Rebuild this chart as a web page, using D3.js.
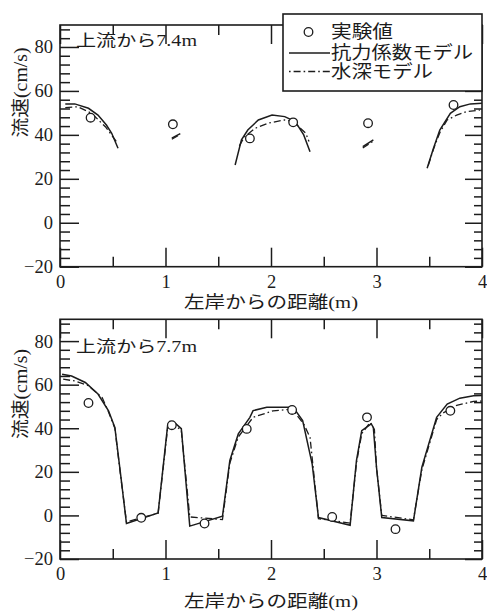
<!DOCTYPE html>
<html>
<head>
<meta charset="utf-8">
<script src="https://cdn.jsdelivr.net/npm/d3@7"></script>
<style>
  html, body { margin: 0; padding: 0; background: #fff; }
  svg { display: block; }
  svg text { font-family: "Liberation Serif", "DejaVu Serif", "Noto Sans CJK JP", serif; fill: #1c1c1c; }
</style>
</head>
<body>
<svg id="chart" width="487" height="611"></svg>
<script>
// Cross-section velocity profiles: measurements vs. two numerical models

// ---- axis ticks ----
const xMajorTicks = [0, 1, 2, 3, 4];
const xMinorTicks = [0.5, 1.5, 2.5, 3.5];
const yMajorTicks = [-20, 0, 20, 40, 60, 80];
const yMinorTicks = d3.range(-20, 90, 4).filter(v => v % 20 !== 0);

// ---- text ----
const sectionTitles = ["上流から7.4m", "上流から7.7m"];
const legendLabels = ["実験値", "抗力係数モデル", "水深モデル"];
const yAxisTitle = "流速(cm/s)";
const xAxisTitle = "左岸からの距離(m)";

// ---- section 7.4 m (flow only between vegetation rows) ----
const measured74 = [[0.29, 47.8], [1.07, 44.8], [1.80, 38.4], [2.21, 45.7], [2.92, 45.3], [3.73, 53.6]];
const dragModel74 = [
  [[0.05, 54.0], [0.14, 54.1], [0.27, 52.1], [0.36, 49.0], [0.44, 44.5], [0.49, 40.7], [0.55, 33.9]],
  [[1.06, 38.5], [1.14, 40.6]],
  [[1.66, 26.3], [1.72, 37.7], [1.78, 42.2], [1.88, 46.8], [2.01, 49.0], [2.13, 48.3], [2.23, 46.0], [2.31, 40.0], [2.37, 32.3]],
  [[2.87, 34.6], [2.97, 37.7]],
  [[3.48, 24.8], [3.54, 33.9], [3.60, 42.2], [3.70, 49.8], [3.79, 52.8], [3.89, 54.1], [4.00, 54.4]]
];
const depthModel74 = [
  [[0.05, 52.4], [0.17, 52.8], [0.30, 49.8], [0.43, 43.7], [0.50, 39.2], [0.54, 36.5]],
  [[1.06, 38.0], [1.14, 40.2]],
  [[1.70, 35.0], [1.75, 39.2], [1.85, 43.0], [1.97, 45.3], [2.13, 46.8], [2.21, 46.0], [2.33, 40.7], [2.36, 37.0]],
  [[2.87, 34.0], [2.97, 37.2]],
  [[3.49, 26.0], [3.54, 33.5], [3.60, 41.0], [3.67, 46.8], [3.76, 49.0], [3.85, 50.5], [3.98, 51.3]]
];

// ---- section 7.7 m (continuous across the channel) ----
const measured77 = [[0.27, 51.6], [0.77, -1.1], [1.06, 41.4], [1.37, -3.7], [1.77, 39.7], [2.20, 48.4],
                    [2.58, -0.7], [2.91, 45.0], [3.18, -6.3], [3.70, 48.0]];
const dragModel77 = [[
  [0.02, 64.8], [0.11, 64.0], [0.24, 61.0], [0.36, 55.7], [0.46, 48.0], [0.52, 40.4], [0.57, 20.6], [0.63, -3.7],
  [0.93, 1.1], [1.02, 41.2], [1.04, 43.0], [1.10, 42.0], [1.15, 39.8], [1.23, -4.9],
  [1.54, -0.4], [1.61, 25.2], [1.69, 37.4], [1.80, 45.0], [1.83, 48.1], [1.96, 49.6], [2.21, 49.6], [2.30, 43.5], [2.39, 23.7], [2.45, -1.0],
  [2.75, -4.5], [2.81, 25.2], [2.86, 38.9], [2.95, 42.0], [2.97, 40.4], [3.00, 22.1], [3.05, -1.0],
  [3.35, -2.5], [3.43, 22.1], [3.57, 45.0], [3.67, 51.1], [3.79, 53.8], [3.92, 54.9], [4.00, 55.0]
]];
const depthModel77 = [[
  [0.03, 62.5], [0.14, 61.7], [0.27, 59.5], [0.40, 54.1], [0.46, 47.5], [0.52, 40.0], [0.57, 20.0], [0.63, -3.0],
  [0.93, 1.0], [1.02, 40.0], [1.05, 41.0], [1.10, 41.0], [1.15, 39.0], [1.23, -0.7],
  [1.54, -1.9], [1.61, 24.0], [1.69, 36.0], [1.83, 45.0], [2.02, 48.0], [2.20, 48.8], [2.31, 42.0], [2.37, 35.8], [2.45, -1.5],
  [2.75, -3.5], [2.81, 24.0], [2.86, 37.5], [2.94, 42.7], [2.98, 39.5], [3.00, 22.0], [3.05, 0.0],
  [3.35, -2.0], [3.43, 21.0], [3.57, 44.0], [3.63, 47.0], [3.76, 50.5], [3.92, 52.3], [4.00, 52.5]
]];

const panels = [
  { title: sectionTitles[0], measured: measured74, drag: dragModel74, depth: depthModel74,
    top: 25, bottom: 266.7, titleY: 40, xTitleY: 302, yTitleY: 92.5, legend: true },
  { title: sectionTitles[1], measured: measured77, drag: dragModel77, depth: depthModel77,
    top: 319.3, bottom: 559, titleY: 346, xTitleY: 601, yTitleY: 394, legend: false }
];

const ink = "#1c1c1c";
const dashDot = "7,3,1.6,3";
const left = 60, right = 482;

const svg = d3.select("#chart");
svg.append("rect").attr("width", 487).attr("height", 611).attr("fill", "#fff");

const x = d3.scaleLinear().domain([0, 4]).range([left, right]);

function styleAxis(g) {
  g.attr("font-family", null).attr("font-size", null);
  g.select(".domain").remove();
  g.selectAll("line").attr("stroke", ink).attr("stroke-width", 1.5);
  g.selectAll("text").attr("fill", ink).style("font-size", "18.5px");
}

panels.forEach(p => {
  const y = d3.scaleLinear().domain([-20, 90]).range([p.bottom, p.top]);
  const g = svg.append("g");

  // left axis: major + minor, ticks pointing inward
  g.append("g").attr("transform", `translate(${left},0)`)
    .call(d3.axisLeft(y).tickValues(yMajorTicks).tickSize(-19).tickSizeOuter(0).tickPadding(7))
    .call(styleAxis);
  g.append("g").attr("transform", `translate(${left},0)`)
    .call(d3.axisLeft(y).tickValues(yMinorTicks).tickSize(-10).tickSizeOuter(0).tickFormat(""))
    .call(styleAxis);
  // right axis
  g.append("g").attr("transform", `translate(${right},0)`)
    .call(d3.axisRight(y).tickValues(yMajorTicks).tickSize(-17).tickSizeOuter(0).tickFormat(""))
    .call(styleAxis);
  g.append("g").attr("transform", `translate(${right},0)`)
    .call(d3.axisRight(y).tickValues(yMinorTicks).tickSize(-8).tickSizeOuter(0).tickFormat(""))
    .call(styleAxis);
  // bottom axis
  g.append("g").attr("transform", `translate(0,${p.bottom})`)
    .call(d3.axisBottom(x).tickValues(xMajorTicks).tickSize(-19).tickSizeOuter(0).tickPadding(8).tickFormat(d3.format("d")))
    .call(styleAxis);
  g.append("g").attr("transform", `translate(0,${p.bottom})`)
    .call(d3.axisBottom(x).tickValues(xMinorTicks).tickSize(-10).tickSizeOuter(0).tickFormat(""))
    .call(styleAxis);
  // top axis
  g.append("g").attr("transform", `translate(0,${p.top})`)
    .call(d3.axisTop(x).tickValues(xMajorTicks).tickSize(-19).tickSizeOuter(0).tickFormat(""))
    .call(styleAxis);
  g.append("g").attr("transform", `translate(0,${p.top})`)
    .call(d3.axisTop(x).tickValues(xMinorTicks).tickSize(-10).tickSizeOuter(0).tickFormat(""))
    .call(styleAxis);

  // frame
  g.append("rect")
    .attr("x", left).attr("y", p.top)
    .attr("width", right - left).attr("height", p.bottom - p.top)
    .attr("fill", "none").attr("stroke", ink).attr("stroke-width", 1.6);

  const line = d3.line().x(d => x(d[0])).y(d => y(d[1])).curve(d3.curveLinear);

  // drag-coefficient model (solid)
  g.append("g").selectAll("path").data(p.drag).join("path")
    .attr("d", line).attr("fill", "none").attr("stroke", ink).attr("stroke-width", 1.5);
  // water-depth model (dash-dot)
  g.append("g").selectAll("path").data(p.depth).join("path")
    .attr("d", line).attr("fill", "none").attr("stroke", ink).attr("stroke-width", 1.3)
    .attr("stroke-dasharray", dashDot);
  // measurements
  g.append("g").selectAll("circle").data(p.measured).join("circle")
    .attr("cx", d => x(d[0])).attr("cy", d => y(d[1])).attr("r", 4.3)
    .attr("fill", "#fff").attr("stroke", ink).attr("stroke-width", 1.3);

  // section title
  g.append("text").text(p.title)
    .attr("x", 76).attr("y", p.titleY).attr("dominant-baseline", "central")
    .style("font-size", "16px")
    .attr("textLength", 121).attr("lengthAdjust", "spacingAndGlyphs");

  // axis titles
  g.append("text").text(yAxisTitle)
    .attr("transform", `translate(21,${p.yTitleY}) rotate(-90)`)
    .attr("text-anchor", "middle").attr("dominant-baseline", "central")
    .style("font-size", "18px")
    .attr("textLength", 90).attr("lengthAdjust", "spacingAndGlyphs");
  g.append("text").text(xAxisTitle)
    .attr("x", 271).attr("y", p.xTitleY)
    .attr("text-anchor", "middle").attr("dominant-baseline", "central")
    .style("font-size", "17px")
    .attr("textLength", 174).attr("lengthAdjust", "spacingAndGlyphs");

  if (p.legend) {
    const lg = svg.append("g");
    lg.append("rect").attr("x", 283).attr("y", 14).attr("width", 199).attr("height", 77)
      .attr("fill", "#fff").attr("stroke", ink).attr("stroke-width", 1.6);
    const rows = [32, 53, 71.5];
    lg.append("circle").attr("cx", 308.5).attr("cy", rows[0]).attr("r", 4.3)
      .attr("fill", "#fff").attr("stroke", ink).attr("stroke-width", 1.3);
    lg.append("line").attr("x1", 289).attr("x2", 330).attr("y1", rows[1]).attr("y2", rows[1])
      .attr("stroke", ink).attr("stroke-width", 1.5);
    lg.append("line").attr("x1", 289).attr("x2", 330).attr("y1", rows[2]).attr("y2", rows[2])
      .attr("stroke", ink).attr("stroke-width", 1.3).attr("stroke-dasharray", "1.6,3,7,3");
    const widths = [62, 142, 102];
    lg.selectAll("text.lab").data(legendLabels).join("text")
      .attr("class", "lab").text(d => d)
      .attr("x", 331).attr("y", (d, i) => rows[i]).attr("dominant-baseline", "central")
      .style("font-size", "18px")
      .attr("textLength", (d, i) => widths[i]).attr("lengthAdjust", "spacingAndGlyphs");
  }
});
</script>
</body>
</html>
